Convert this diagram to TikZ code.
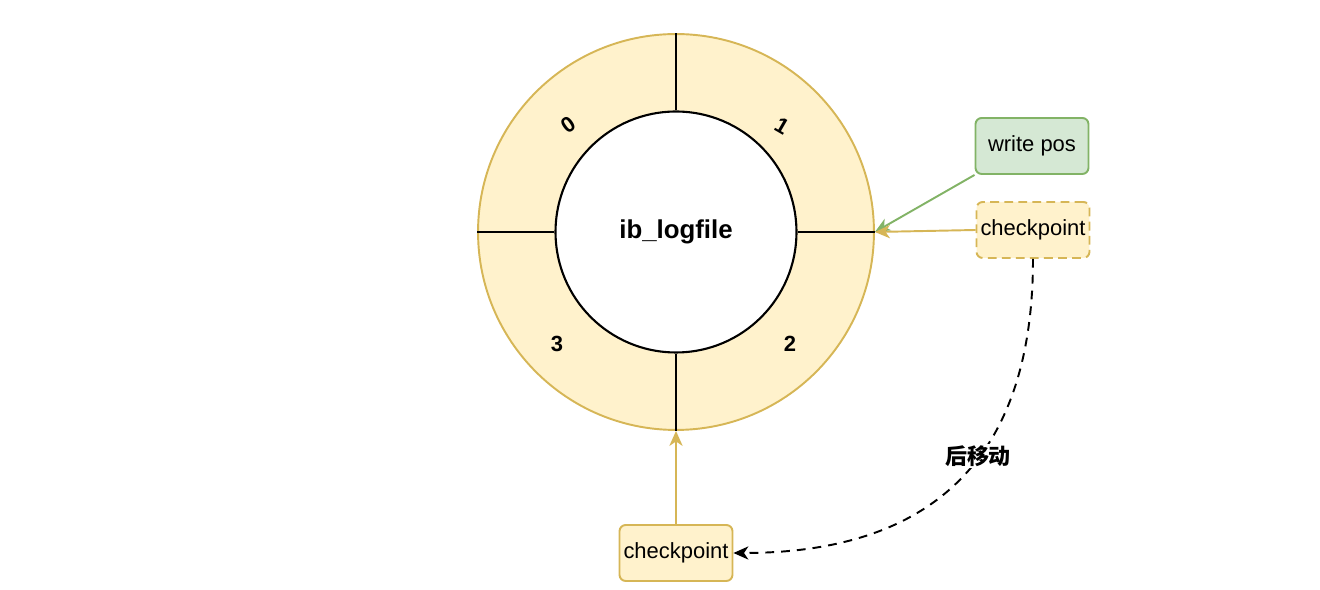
\documentclass[tikz,border=0pt]{standalone}
\usepackage{fontspec}
\setmainfont{Liberation Sans}
\newfontfamily\cjk{Noto Sans CJK SC}
\usetikzlibrary{arrows.meta, positioning}

\definecolor{ringfill}{HTML}{FFF2CC}
\definecolor{ringline}{HTML}{D6B656}
\definecolor{posfill}{HTML}{D5E8D4}
\definecolor{posline}{HTML}{82B366}

\begin{document}
\begin{tikzpicture}[x=0.02cm, y=-0.02cm, >={Stealth[length=8.5pt, width=7.5pt, inset=2.5pt]},
    box/.style={draw, rounded corners=3.5pt, line width=1.1pt, minimum width=2.26cm,
      minimum height=1.12cm, inner sep=0pt, font=\fontsize{12.5}{15}\selectfont},
    seg/.style={font=\bfseries\fontsize{12.5}{15}\selectfont},
    divider/.style={line width=1.2pt, black}]
  \useasboundingbox (0,0) rectangle (1320,590);

  % ring and log file
  \node[circle, draw=ringline, fill=ringfill, line width=1.1pt, inner sep=0pt,
    minimum size=7.92cm] (ring) at (676,232) {};
  \node[circle, draw=black, fill=white, line width=1.2pt, inner sep=0pt,
    minimum size=4.82cm, font=\bfseries\fontsize{14.7}{17}\selectfont] (core) at (676,232) {\raisebox{-1.2pt}{ib\_logfile}};

  \draw[divider] (core.north) -- (ring.north);
  \draw[divider] (core.west) -- (ring.west);
  \draw[divider] (core.east) -- (ring.east);
  \draw[divider] (core.south) -- (ring.south);

  \node[seg, rotate=35] (n0) at (568,125) {0};
  \node[seg, rotate=-30] (n1) at (782,126) {1};
  \node[seg] (n2) at (790,344) {2};
  \node[seg] (n3) at (557,344) {3};

  % pointers
  \node[box, draw=posline, fill=posfill] (wpos) at (1032,146) {write pos};
  \node[box, draw=ringline, fill=ringfill, dashed, dash pattern=on 5pt off 3pt] (ckpt) at (1033,230) {checkpoint};
  \node[box, draw=ringline, fill=ringfill] (ckptb) at (676,553) {checkpoint};

  \draw[->, posline, line width=1.1pt] (wpos.south west) -- (ring.east);
  \draw[->, ringline, line width=1.1pt] (ckpt.west) -- (ring.east);
  \draw[->, ringline, line width=1.1pt] (ckptb.north) -- (ring.south);

  \draw[->, black, line width=1.1pt, dashed, dash pattern=on 5pt off 4pt]
    (ckpt.south) .. controls +(0,193) and +(205,0) .. (ckptb.east);
  \node[fill=white, inner sep=1pt, font=\cjk\bfseries\fontsize{12.5}{15}\selectfont] (move) at (978,456) {后移动};
\end{tikzpicture}
\end{document}
